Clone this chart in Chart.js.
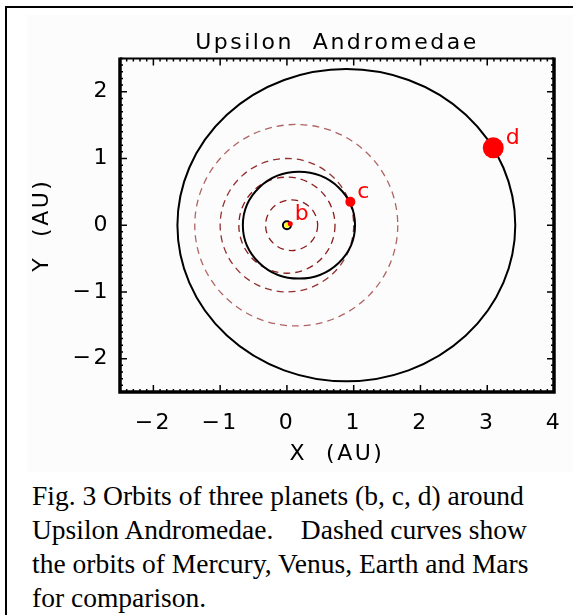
<!DOCTYPE html>
<html>
<head>
<meta charset="utf-8">
<script src="https://cdn.jsdelivr.net/npm/chart.js@4.4.0/dist/chart.umd.min.js"></script>
<style>
  html, body { margin: 0; padding: 0; background: #fff; }
  body { width: 573px; height: 615px; position: relative; overflow: hidden; }
  #frame { position: absolute; left: 5px; top: 6px; width: 600px; height: 640px; border-top: 2px solid #000; border-left: 2px solid #000; }
  #plotBox { position: absolute; left: 27px; top: 15px; width: 546px; height: 457px; background: #fcfcfc; }
  #caption { position: absolute; left: 32px; top: 479px; font-family: "Liberation Serif", "Times New Roman", serif; font-size: 27.5px; line-height: 34px; color: #000; white-space: nowrap; }
</style>
</head>
<body>
<div id="frame"></div>
<div id="plotBox"><canvas id="orbitChart" width="546" height="457"></canvas></div>
<div id="caption">Fig. 3 Orbits of three planets (b, c, d) around<br>Upsilon Andromedae.&nbsp;&nbsp;&nbsp; Dashed curves show<br>the orbits of Mercury, Venus, Earth and Mars<br>for comparison.</div>

<script>
// axis ticks
const xTickValues = [-2, -1, 0, 1, 2, 3, 4];
const xTickLabels = ['−2', '−1', '0', '1', '2', '3', '4'];
const yTickValues = [-2, -1, 0, 1, 2];
const yTickLabels = ['−2', '−1', '0', '1', '2'];

// star + planets, positions in AU
const bodyNames = ['star', 'b', 'c', 'd'];
const bodyX = [0, 0.05, 0.95, 3.09];
const bodyY = [0, 0.02, 0.35, 1.16];

// planet orbits (ellipse centre x + semi-axes, AU)
const planetOrbitNames = ['b', 'c', 'd'];
const planetOrbitCx = [0.0, 0.18, 0.89];
const planetOrbitA = [0.06, 0.84, 2.53];
const planetOrbitB = [0.06, 0.80, 2.34];

// solar system orbits for comparison
const solarNames = ['Mercury', 'Venus', 'Earth', 'Mars'];
const solarCx = [0.07, 0, 0, 0.14];
const solarA = [0.39, 0.72, 1.0, 1.52];
const solarB = [0.38, 0.72, 1.0, 1.51];

// styles
const bodyColors = ['#ffff00', '#ff0000', '#ff0000', '#ff0000'];
const bodyRadius = [2.5, 2.5, 5, 10.5];
const solarColors = ['#8b1c1c', '#8b1c1c', '#953030', '#b06464'];
const axisFont = { family: 'DejaVu Sans', size: 22, weight: 'normal' };

function ellipsePath(ctx, x, y, cx, a, b) {
    const px = x.getPixelForValue(cx);
    const py = y.getPixelForValue(0);
    const rx = Math.abs(x.getPixelForValue(cx + a) - px);
    const ry = Math.abs(y.getPixelForValue(b) - py);
    ctx.beginPath();
    ctx.ellipse(px, py, rx, ry, 0, 0, Math.PI * 2);
}

// ========================
// Orbits (under the points)
// ========================
const orbitPlugin = {
    id: 'orbits',
    beforeDraw(chart) {
        // IDL-style wide lettering
        chart.ctx.letterSpacing = '2.5px';
    },
    beforeDatasetsDraw(chart) {
        const { ctx, chartArea, scales: { x, y } } = chart;
        ctx.save();
        ctx.beginPath();
        ctx.rect(chartArea.left, chartArea.top, chartArea.width, chartArea.height);
        ctx.clip();

        solarNames.forEach((n, i) => {
            ellipsePath(ctx, x, y, solarCx[i], solarA[i], solarB[i]);
            ctx.setLineDash([7, 5]);
            ctx.strokeStyle = solarColors[i];
            ctx.lineWidth = 1.3;
            ctx.stroke();
        });

        ctx.setLineDash([]);
        planetOrbitNames.forEach((n, i) => {
            ellipsePath(ctx, x, y, planetOrbitCx[i], planetOrbitA[i], planetOrbitB[i]);
            ctx.strokeStyle = '#000';
            ctx.lineWidth = 2;
            ctx.stroke();
        });
        ctx.restore();
    },
    afterDatasetsDraw(chart) {
        const { ctx } = chart;
        const pts = chart.getDatasetMeta(0).data;
        ctx.save();
        ctx.fillStyle = '#ff0000';
        ctx.font = '22px "DejaVu Sans"';
        ctx.textAlign = 'left';
        ctx.textBaseline = 'middle';
        bodyNames.forEach((n, i) => {
            if (n === 'star') return;
            ctx.fillText(n, pts[i].x + bodyRadius[i] + 2, pts[i].y - 10);
        });
        ctx.restore();
    }
};

// ========================
// Box frame with inward ticks
// ========================
const framePlugin = {
    id: 'idlFrame',
    afterDraw(chart) {
        const { ctx, chartArea: { left, top, right, bottom }, scales: { x, y } } = chart;
        ctx.save();
        ctx.strokeStyle = '#000';
        ctx.lineWidth = 2;
        ctx.beginPath();
        ctx.moveTo(left, top); ctx.lineTo(right, top);
        ctx.stroke();
        ctx.lineWidth = 3.5;
        ctx.beginPath();
        ctx.moveTo(left, top - 1); ctx.lineTo(left, bottom);
        ctx.lineTo(right, bottom); ctx.lineTo(right, top - 1);
        ctx.stroke();

        ctx.lineWidth = 1.5;
        ctx.beginPath();
        for (let k = Math.ceil(x.min * 10); k <= Math.floor(x.max * 10); k++) {
            const px = x.getPixelForValue(k / 10);
            const len = k % 10 === 0 ? 7 : 3;
            ctx.moveTo(px, top); ctx.lineTo(px, top + len);
            ctx.moveTo(px, bottom); ctx.lineTo(px, bottom - len);
        }
        for (let k = Math.ceil(y.min * 10); k <= Math.floor(y.max * 10); k++) {
            const py = y.getPixelForValue(k / 10);
            const len = k % 10 === 0 ? 7 : 3;
            ctx.moveTo(left, py); ctx.lineTo(left + len, py);
            ctx.moveTo(right, py); ctx.lineTo(right - len, py);
        }
        ctx.stroke();
        ctx.restore();
    }
};

new Chart(document.getElementById('orbitChart'), {
    type: 'scatter',
    data: {
        datasets: [{
            data: bodyX.map((v, i) => ({ x: v, y: bodyY[i] })),
            backgroundColor: bodyColors,
            borderWidth: 0,
            pointRadius: bodyRadius,
            pointHoverRadius: bodyRadius
        }]
    },
    options: {
        responsive: false,
        animation: false,
        layout: { padding: { left: 0, right: 19, top: 0, bottom: 0 } },
        plugins: {
            legend: { display: false },
            tooltip: { enabled: false },
            title: {
                display: true,
                text: 'Upsilon  Andromedae',
                color: '#000',
                fullSize: false,
                font: axisFont,
                padding: { top: 15, bottom: 2 }
            }
        },
        scales: {
            x: {
                type: 'linear', min: -2.5, max: 4,
                grid: { display: false, drawTicks: false },
                border: { display: false },
                afterBuildTicks: (s) => { s.ticks = xTickValues.map(v => ({ value: v })); },
                ticks: {
                    callback: (v) => xTickLabels[xTickValues.indexOf(v)],
                    color: '#000', font: axisFont, padding: 18, maxRotation: 0, autoSkip: false
                },
                title: { display: true, text: 'X  (AU)', color: '#000', font: axisFont, padding: { top: 0, bottom: 5 } },
                afterFit: (s) => { s.height = 80; s.paddingLeft = 0; s.paddingRight = 0; }
            },
            y: {
                type: 'linear', min: -2.5, max: 2.5,
                grid: { display: false, drawTicks: false },
                border: { display: false },
                afterBuildTicks: (s) => { s.ticks = yTickValues.map(v => ({ value: v })); },
                ticks: {
                    callback: (v) => yTickLabels[yTickValues.indexOf(v)],
                    color: '#000', font: axisFont, padding: 10, autoSkip: false
                },
                title: { display: true, text: 'Y  (AU)', color: '#000', font: axisFont, padding: { top: 2, bottom: 0 } },
                afterFit: (s) => { s.width = 93; s.paddingTop = 0; s.paddingBottom = 0; }
            }
        }
    },
    plugins: [orbitPlugin, framePlugin]
});
</script>
</body>
</html>
